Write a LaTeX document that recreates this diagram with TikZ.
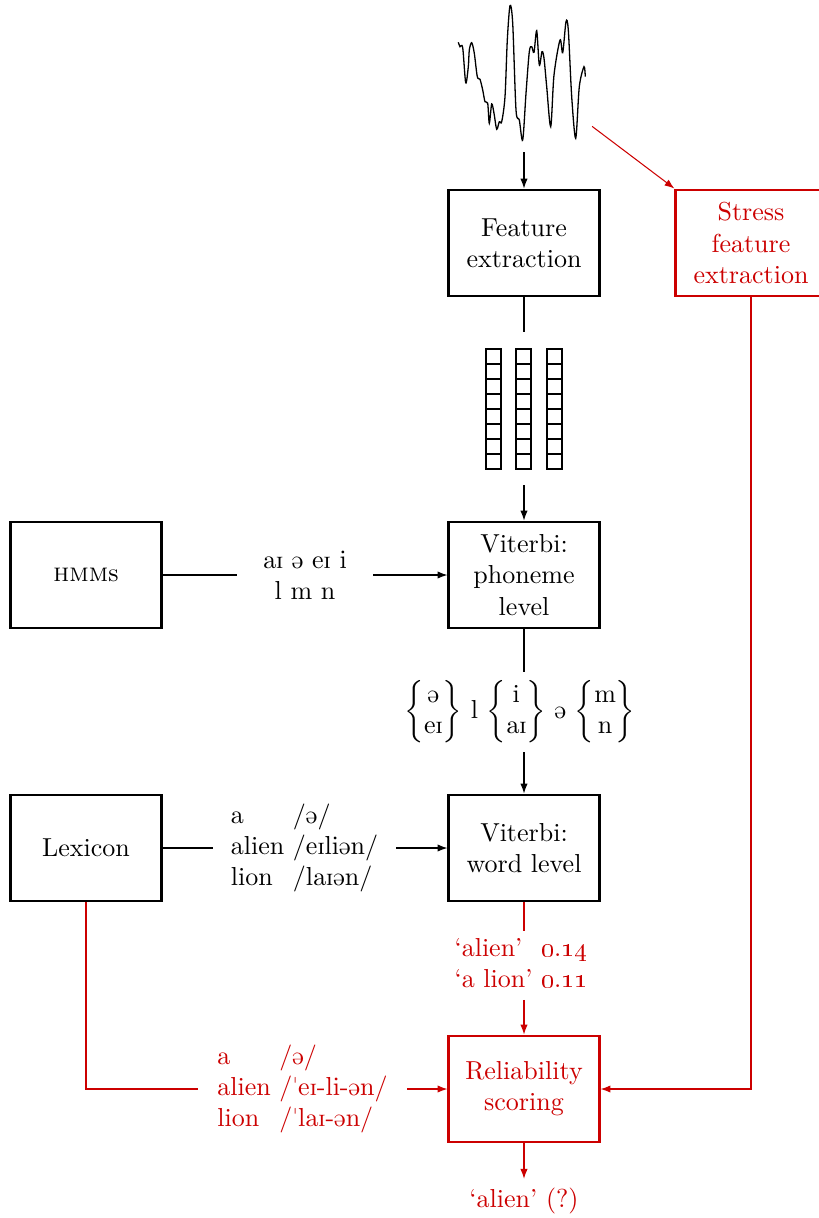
\documentclass[tikz,border=0pt]{standalone}
\usepackage{amsmath}
\usepackage{tipa}
\usetikzlibrary{arrows.meta}

\definecolor{relred}{RGB}{204,0,0}

\begin{document}
\begin{tikzpicture}[
        x=0.3846pt,
        y=-0.3846pt,
        >={Latex[length=3.8pt, width=2.8pt]},
        box/.style={draw, line width=0.9pt, minimum width=58pt, minimum height=41pt, align=center},
        redbox/.style={box, relred},
        lbl/.style={align=center}
      ]
      \useasboundingbox (0,0) rectangle (818,1218);

      % --- 1. waveform ---
      \draw[line width=0.5pt] plot[smooth, tension=0.5] coordinates {
        (458.3,42.3) (460,46.7) (462.7,47.7) (465.7,82.7) (468.3,66.7)
        (469.3,50) (471.7,42.7) (474.3,53.3) (477.3,76.7) (480,79.3)
        (482.7,90) (485,101.7) (487.7,103.3) (489.3,123.3) (491.7,104)
        (494,113.3) (496.7,129.3) (499.3,121.7) (501.7,121.7) (505,96.7)
        (507.3,40) (510,5.7) (512.7,23.3) (516,110) (519.3,120)
        (522.7,140) (526,93.3) (529.3,51.7) (531.7,46.7) (534,52.3)
        (536.7,30.7) (539.3,65) (542,51.7) (544,58.3) (546.7,86.7)
        (550.7,126.7) (554,75) (560,40) (562.7,52.7) (566,21.7)
        (568.3,30) (571.7,96.7) (575.7,138.3) (579.3,86.7) (584,66.7)
        (585.3,76.7)};
      \node (wave) [minimum width=52pt, minimum height=59pt] at (524,75) {};

      % --- 2. processing boxes ---
      \node[box] (feat) at (524,243) {Feature\\extraction};
      \node[redbox] (stress) at (751,243) {Stress\\feature\\extraction};
      \node[box] (vitph) at (524,575) {Viterbi:\\phoneme\\level};
      \node[box] (hmm) at (86,575) {\textsc{hmm}s};
      \node[box] (lex) at (86,848) {Lexicon};
      \node[box] (vitwd) at (524,848) {Viterbi:\\word level};
      \node[redbox] (rel) at (524,1089) {Reliability\\scoring};

      % --- 3. feature vectors ---
      \node (vecs) [minimum width=32pt, minimum height=58.8pt, inner sep=0pt] at (524,408.5) {};
      \foreach \c in {486,516,547}
        \foreach \r in {0,...,7}
          \draw (\c,349+15*\r) rectangle ++(15,15);

      % --- 4. intermediate results ---
      \node[lbl, minimum width=52pt] (ph) at (305,575) {\textipa{aI @ eI i}\\l m n};
      \node (latt) at (520,712) {$\begin{Bmatrix}\text{\textipa{@}}\\ \text{\textipa{eI}}\end{Bmatrix}$ l
        $\begin{Bmatrix}\text{i}\\ \text{\textipa{aI}}\end{Bmatrix}$ \textipa{@}
        $\begin{Bmatrix}\text{m}\\ \text{n}\end{Bmatrix}$};
      \node (words) [minimum width=70pt] at (304.5,848) {%
        \begin{tabular}{@{}l@{\ }l@{}}
          a & \textipa{/@/}\\
          alien & \textipa{/eIli@n/}\\
          lion & \textipa{/laI@n/}
        \end{tabular}};

      % stress-marked lexicon and scores
      \node[relred] (swords) [minimum width=80pt] at (302.5,1089) {%
        \begin{tabular}{@{}l@{\ }l@{}}
          a & \textipa{/@/}\\
          alien & \textipa{/"eI-li-@n/}\\
          lion & \textipa{/"laI-@n/}
        \end{tabular}};
      \node[relred, inner sep=1pt] (scores) at (521,965.5) {%
        \begin{tabular}{@{}l@{\ }l@{}}
          `alien' & \oldstylenums{0}.\oldstylenums{14}\\
          `a lion' & \oldstylenums{0}.\oldstylenums{11}
        \end{tabular}};
      \node[relred] (out) at (524,1201) {`alien' (?)};

      % --- 5. connectors ---
      \draw[->] (wave) -- (feat);
      \draw[->, relred] (wave) -- (stress.north west);
      \draw (feat) -- (vecs);
      \draw[->] (vecs) -- (vitph);
      \draw (hmm) -- (ph);
      \draw[->] (ph) -- (vitph);
      \draw (vitph) -- (vitph.south |- latt.north);
      \draw[->] (vitwd.north |- latt.south) -- (vitwd);
      \draw (lex) -- (words);
      \draw[->] (words) -- (vitwd);

      % reliability path
      \draw[relred] (vitwd) -- (vitwd.south |- scores.north);
      \draw[->, relred] (rel.north |- scores.south) -- (rel);
      \draw[relred] (lex) |- (swords);
      \draw[->, relred] (swords) -- (rel);
      \draw[->, relred] (stress) |- (rel);
      \draw[->, relred] (rel) -- (out);

    \end{tikzpicture}
\end{document}
